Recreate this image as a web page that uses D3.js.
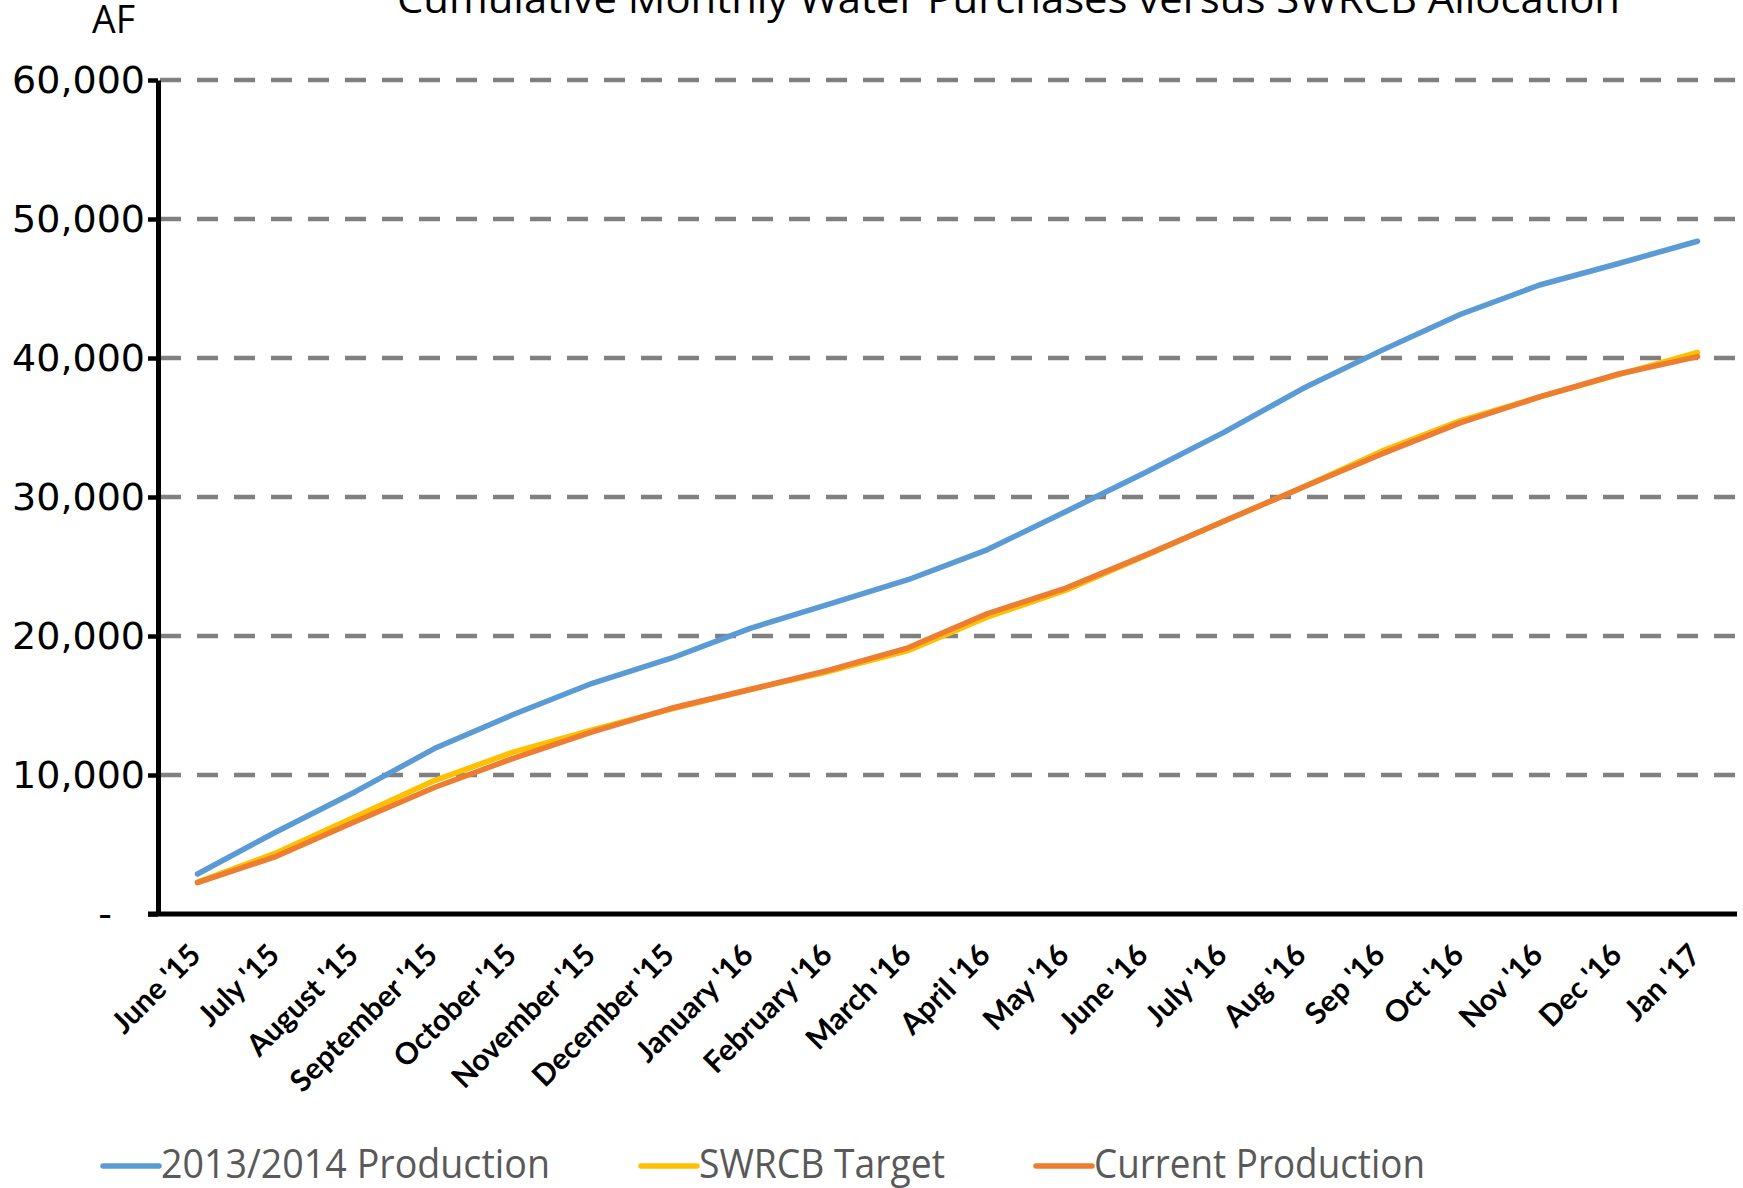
<!DOCTYPE html>
<html>
<head>
<meta charset="utf-8">
<script src="https://cdn.jsdelivr.net/npm/d3@7/dist/d3.min.js"></script>
<style>
  body { margin: 0; background: #fff; }
  svg { display: block; }
</style>
</head>
<body>
<div id="chart"></div>
<script>
// data (acre-feet, cumulative)
var months = ["June '15", "July '15", "August '15", "September '15", "October '15",
  "November '15", "December '15", "January '16", "February '16", "March '16",
  "April '16", "May '16", "June '16", "July '16", "Aug '16", "Sep '16",
  "Oct '16", "Nov '16", "Dec '16", "Jan '17"];

var prod1314 = [2880, 5920, 8800, 11900, 14350, 16600, 18400, 20550, 22300, 24050,
  26200, 28950, 31750, 34650, 37800, 40550, 43150, 45250, 46800, 48400];

var swrcbTarget = [2300, 4400, 7000, 9600, 11650, 13250, 14750, 16150, 17450, 18950,
  21350, 23300, 25750, 28250, 30700, 33300, 35500, 37200, 38800, 40400];

var currentProd = [2250, 4150, 6650, 9100, 11200, 13100, 14800, 16150, 17550, 19150,
  21600, 23450, 25800, 28250, 30700, 33100, 35350, 37200, 38850, 40100];

var yTicks = [0, 10000, 20000, 30000, 40000, 50000, 60000];

var seriesNames = ["2013/2014 Production", "SWRCB Target", "Current Production"];
var seriesColors = ["#5B9BD5", "#FFC000", "#ED7D31"];

var W = 1743, H = 1188;
var margin = {top: 80, right: 6, bottom: 274, left: 158};

var svg = d3.select("#chart").append("svg")
    .attr("width", W)
    .attr("height", H);

var x = d3.scalePoint()
    .domain(months)
    .range([margin.left, W - margin.right])
    .padding(0.5);

var y = d3.scaleLinear()
    .domain([0, 60000])
    .range([H - margin.bottom, margin.top]);

// title (cut at top like the original)
svg.append("text")
    .attr("x", 397)
    .attr("y", 13)
    .attr("textLength", 1223)
    .attr("lengthAdjust", "spacingAndGlyphs")
    .style("font-family", "Open Sans")
    .style("font-size", "40px")
    .style("fill", "#000")
    .text("Cumulative Monthly Water Purchases versus SWRCB Allocation");

svg.append("text")
    .attr("x", 92)
    .attr("y", 33)
    .attr("textLength", 43)
    .attr("lengthAdjust", "spacingAndGlyphs")
    .style("font-family", "Open Sans")
    .style("font-size", "38px")
    .text("AF");

// gridlines
svg.append("g")
    .selectAll("line")
    .data(yTicks.filter(function(d) { return d > 0; }))
    .enter()
    .append("line")
    .attr("x1", margin.left + 2)
    .attr("x2", W)
    .attr("y1", function(d) { return y(d); })
    .attr("y2", function(d) { return y(d); })
    .style("stroke", "#808080")
    .style("stroke-width", 4.5)
    .style("stroke-dasharray", "21,16");

// y axis
var yAxis = svg.append("g")
    .attr("transform", "translate(" + margin.left + ",0)")
    .call(d3.axisLeft(y)
      .tickValues(yTicks)
      .tickSize(10)
      .tickSizeOuter(0)
      .tickPadding(3)
      .tickFormat(function(d) { return d === 0 ? "-" : d3.format(",")(d); }));
yAxis.select(".domain").style("stroke", "#000").style("stroke-width", 5);
yAxis.selectAll(".tick line").style("stroke", "#000").style("stroke-width", 4.5);
yAxis.selectAll(".tick text")
    .style("font-family", "DejaVu Sans")
    .style("font-size", "38px")
    .style("fill", "#000");
yAxis.selectAll(".tick text")
    .filter(function(d) { return d === 0; })
    .attr("x", -46);

// x axis
var xAxis = svg.append("g")
    .attr("transform", "translate(0," + y(0) + ")")
    .call(d3.axisBottom(x).tickSize(0).tickSizeOuter(0).tickFormat(""));
xAxis.select(".domain")
    .attr("d", "M" + (margin.left - 10) + ",0H" + (W - margin.right))
    .style("stroke", "#000").style("stroke-width", 5);

svg.append("g")
    .selectAll("text")
    .data(months)
    .enter()
    .append("text")
    .attr("transform", function(d) {
      return "translate(" + (x(d) + 5) + "," + (y(0) + 43) + ") rotate(-45)";
    })
    .style("text-anchor", "end")
    .style("font-family", "Lato")
    .style("font-weight", "bold")
    .style("font-size", "30px")
    .style("fill", "#000")
    .text(function(d) { return d; });

// lines
var line = d3.line()
    .x(function(d, i) { return x(months[i]); })
    .y(function(d) { return y(d); });

[prod1314, swrcbTarget, currentProd].forEach(function(s, i) {
  svg.append("path")
    .datum(s)
    .attr("d", line)
    .style("fill", "none")
    .style("stroke", seriesColors[i])
    .style("stroke-width", 5.5)
    .style("stroke-linecap", "round")
    .style("stroke-linejoin", "round");
});

// legend
var legendX = [103, 641, 1036];
var legendW = [389, 246, 331];
var leg = svg.append("g");
seriesNames.forEach(function(name, i) {
  leg.append("line")
    .attr("x1", legendX[i]).attr("x2", legendX[i] + 56)
    .attr("y1", 1166).attr("y2", 1166)
    .style("stroke", seriesColors[i])
    .style("stroke-width", 5.5)
    .style("stroke-linecap", "round");
  leg.append("text")
    .attr("x", legendX[i] + 58)
    .attr("y", 1178)
    .attr("textLength", legendW[i])
    .attr("lengthAdjust", "spacingAndGlyphs")
    .style("font-family", "Open Sans")
    .style("font-size", "40px")
    .style("fill", "#595959")
    .text(name);
});
</script>
</body>
</html>
